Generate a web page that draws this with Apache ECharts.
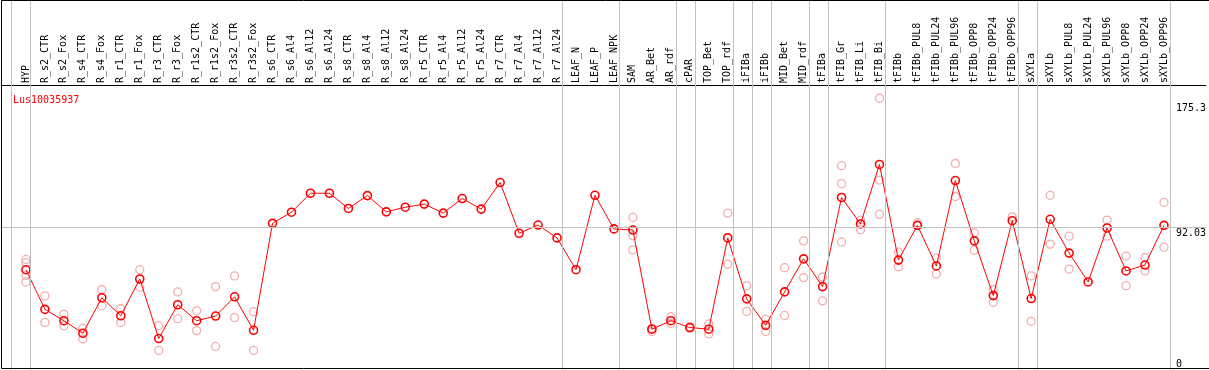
<!DOCTYPE html>
<html>
<head>
<meta charset="utf-8">
<script src="https://cdn.jsdelivr.net/npm/echarts@6/dist/echarts.min.js"></script>
<style>
html,body{margin:0;padding:0;background:#fff;}
#chart{width:1209px;height:370px;}
</style>
</head>
<body>
<div id="chart"></div>
<script>
const geneName = 'Lus10035937';
const categories = ['HYP','R_s2_CTR','R_s2_Fox','R_s4_CTR','R_s4_Fox','R_r1_CTR','R_r1_Fox','R_r3_CTR','R_r3_Fox','R_r1s2_CTR','R_r1s2_Fox','R_r3s2_CTR','R_r3s2_Fox','R_s6_CTR','R_s6_Al4','R_s6_Al12','R_s6_Al24','R_s8_CTR','R_s8_Al4','R_s8_Al12','R_s8_Al24','R_r5_CTR','R_r5_Al4','R_r5_Al12','R_r5_Al24','R_r7_CTR','R_r7_Al4','R_r7_Al12','R_r7_Al24','LEAF_N','LEAF_P','LEAF_NPK','SAM','AR_Bet','AR_rdf','cPAR','TOP_Bet','TOP_rdf','iFIBa','iFIBb','MID_Bet','MID_rdf','tFIBa','tFIB_Gr','tFIB_Li','tFIB_Bi','tFIBb','tFIBb_PUL8','tFIBb_PUL24','tFIBb_PUL96','tFIBb_OPP8','tFIBb_OPP24','tFIBb_OPP96','sXYLa','sXYLb','sXYLb_PUL8','sXYLb_PUL24','sXYLb_PUL96','sXYLb_OPP8','sXYLb_OPP24','sXYLb_OPP96'];
const means = [64.7,39.1,31.8,23.7,46.6,35.0,58.7,20.3,42.1,31.8,34.8,47.2,25.6,94.6,101.8,114.0,114.0,104.2,112.5,102.0,105.0,107.0,101.2,110.6,103.8,120.9,88.2,93.5,85.2,64.7,112.7,91.0,90.3,26.3,31.8,27.4,26.3,85.2,45.9,28.8,50.4,71.7,53.8,111.3,94.2,132.6,70.9,93.3,67.1,122.2,83.3,48.0,96.3,46.1,97.2,75.4,56.8,91.6,63.9,67.7,93.3];
const replicates = [
  [71.3,69.2,61.0,56.8],[47.8,30.7],[35.9,28.6],[26.9,20.0],[51.9,41.4],[39.5,30.6],[64.7,53.4],[28.6,12.6],[50.4,33.1],[38.2,25.4],[53.8,15.2],[60.7,33.8],[37.6,12.6],
  [],[],[],[],[],[],[],[],[],[],[],[],[],[],[],[],
  [],[],[],
  [98.4,86.7,77.5],[24.8,26.9],[34.4,30.1],[27.0,27.8],[29.7,23.3],[101.2,68.3],[54.3,37.8],[32.7,24.8],[66.0,35.2],[83.3,59.6],
  [60.0,44.6],[131.8,120.2,82.6],[96.7,90.5],[175.3,122.5,100.4],
  [76.0,66.6],[95.0],[72.2,61.9],[133.2,111.9],[88.4,77.3],[51.9,43.7],[98.8],
  [60.7,31.4],[112.7,81.2],[86.3,65.1],[],[96.7,86.3],[73.5,54.4],[72.4,63.9],[108.1,79.2]
];
const groupLastIndex = [-1,0,28,31,34,35,37,38,39,41,42,45,52,53,60];
const yTickValues = [0, 92.03, 175.3];
const yTickLabels = ['0', '92.03', '175.3'];
const referenceValue = 92.03;

const FONT = 'DejaVu Sans Mono';
const xMin = -25/19, xMax = 1182/19;
const yMax = 287/1.5612;

const meanData = means.map((v,i)=>[i,v]);
const repData = [];
replicates.forEach((arr,i)=>arr.forEach(v=>repData.push([i,v])));
const richKeys = ['b','m','t'];

const chart = echarts.init(document.getElementById('chart'), null, {renderer:'canvas'});
chart.setOption({
  animation:false,
  backgroundColor:'#fff',
  title:{text:geneName,left:8,top:90,textStyle:{color:'#ff0000',fontSize:10,fontWeight:'normal',fontFamily:FONT}},
  grid:[
    {left:1,right:1,top:85,height:287},
    {left:1,right:1,top:0,height:372}
  ],
  xAxis:[
    {type:'value',gridIndex:0,position:'top',min:xMin,max:xMax,
     axisLine:{show:true,onZero:false,lineStyle:{color:'#000',width:1}},
     axisTick:{show:false},splitLine:{show:false},
     axisLabel:{show:true,customValues:categories.map((c,i)=>i),rotate:-90,margin:2,
       formatter:v=>categories[Math.round(v)],fontFamily:FONT,fontSize:10,color:'#000'}},
    {type:'value',gridIndex:1,min:xMin,max:xMax,show:false}
  ],
  yAxis:[
    {type:'value',gridIndex:0,position:'right',offset:-30,min:0,max:yMax,
     axisLine:{show:false},axisTick:{show:false},splitLine:{show:false},
     axisLabel:{show:true,customValues:yTickValues,margin:0,
       formatter:v=>{const k=yTickValues.indexOf(v);return '{'+richKeys[k]+'|'+yTickLabels[k]+'}';},
       rich:{
         b:{fontFamily:FONT,fontSize:10,color:'#000',padding:[0,0,12,0]},
         m:{fontFamily:FONT,fontSize:10,color:'#000',padding:[13,0,0,0]},
         t:{fontFamily:FONT,fontSize:10,color:'#000',padding:[20,0,0,0]}
       }}},
    {type:'value',gridIndex:1,min:0,max:1,show:false}
  ],
  series:[
    {type:'line',xAxisIndex:1,yAxisIndex:1,data:[],silent:true,z:1,
     markLine:{silent:true,symbol:'none',label:{show:false},
       lineStyle:{color:'#c0c0c0',width:1,type:'solid'},
       data:groupLastIndex.map(g=>({xAxis:g+0.24}))}},
    {type:'scatter',xAxisIndex:0,yAxisIndex:0,data:repData,symbol:'circle',symbolSize:8,z:2,
     itemStyle:{color:'rgba(0,0,0,0)',borderColor:'#ef9999',borderWidth:1.3}},
    {type:'line',xAxisIndex:0,yAxisIndex:0,data:meanData,symbol:'circle',symbolSize:8,z:3,
     lineStyle:{color:'#ff0000',width:1},
     itemStyle:{color:'rgba(255,255,255,0)',borderColor:'#ff0000',borderWidth:1.6},
     markLine:{silent:true,symbol:'none',label:{show:false},
       lineStyle:{color:'#c0c0c0',width:1,type:'solid'},
       data:[{yAxis:referenceValue}]}}
  ],
  graphic:[
    {type:'rect',shape:{x:1.5,y:0.5,width:1212,height:368},style:{fill:'none',stroke:'#000',lineWidth:1},silent:true,z:100}
  ]
});
</script>
</body>
</html>
